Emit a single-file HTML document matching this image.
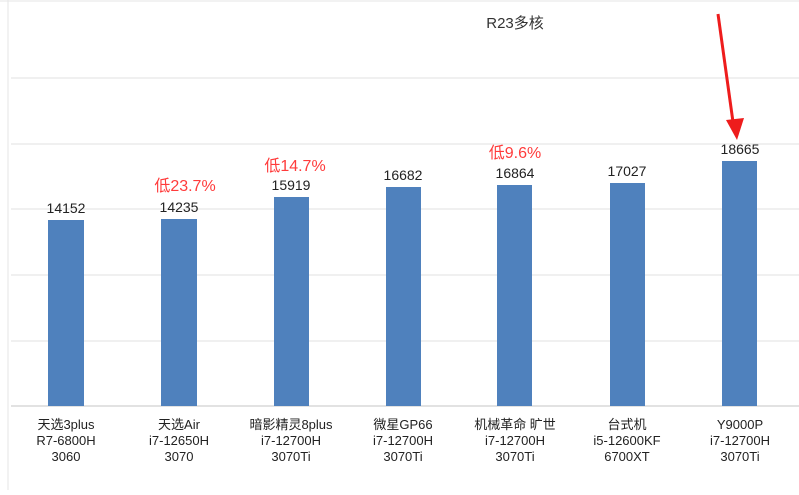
<!DOCTYPE html>
<html><head><meta charset="utf-8"><style>
body{margin:0;background:#fff;}
svg text{font-family:"Liberation Sans","Noto Sans CJK SC",sans-serif;}
</style></head><body>
<svg width="799" height="490" xmlns="http://www.w3.org/2000/svg">
<rect width="799" height="490" fill="#fff"/>
<line x1="8" y1="0" x2="8" y2="490" stroke="#e6e6e6"/>
<line x1="0" y1="1" x2="799" y2="1" stroke="#e6e6e6"/>
<g stroke="#ececec" stroke-width="1.5">
<line x1="11" y1="78" x2="799" y2="78"/>
<line x1="11" y1="144" x2="799" y2="144"/>
<line x1="11" y1="209" x2="799" y2="209"/>
<line x1="11" y1="275" x2="799" y2="275"/>
<line x1="11" y1="341" x2="799" y2="341"/>
</g>
<line x1="11" y1="406" x2="799" y2="406" stroke="#d9d9d9" stroke-width="1.5"/>
<text x="515" y="28" font-size="15" text-anchor="middle" fill="#333">R23多核</text>
<g fill="#4f81bd">
<rect x="48" y="220" width="36" height="186"/>
<rect x="161" y="219" width="36" height="187"/>
<rect x="274" y="197" width="35" height="209"/>
<rect x="386" y="187" width="35" height="219"/>
<rect x="497" y="185" width="35" height="221"/>
<rect x="610" y="183" width="35" height="223"/>
<rect x="722" y="161" width="35" height="245"/>
</g>
<g font-size="14" text-anchor="middle" fill="#222">
<text x="66" y="213">14152</text>
<text x="179" y="212">14235</text>
<text x="291" y="190">15919</text>
<text x="403" y="180">16682</text>
<text x="515" y="178">16864</text>
<text x="627" y="176">17027</text>
<text x="740" y="154">18665</text>
</g>
<g font-size="16" text-anchor="middle" fill="#ff3b3b">
<text x="185" y="191">低23.7%</text>
<text x="295" y="171">低14.7%</text>
<text x="515" y="158">低9.6%</text>
</g>
<g font-size="13" text-anchor="middle" fill="#222">
<text x="66" y="429">天选3plus</text><text x="66" y="445">R7-6800H</text><text x="66" y="461">3060</text>
<text x="179" y="429">天选Air</text><text x="179" y="445">i7-12650H</text><text x="179" y="461">3070</text>
<text x="291" y="429">暗影精灵8plus</text><text x="291" y="445">i7-12700H</text><text x="291" y="461">3070Ti</text>
<text x="403" y="429">微星GP66</text><text x="403" y="445">i7-12700H</text><text x="403" y="461">3070Ti</text>
<text x="515" y="429">机械革命 旷世</text><text x="515" y="445">i7-12700H</text><text x="515" y="461">3070Ti</text>
<text x="627" y="429">台式机</text><text x="627" y="445">i5-12600KF</text><text x="627" y="461">6700XT</text>
<text x="740" y="429">Y9000P</text><text x="740" y="445">i7-12700H</text><text x="740" y="461">3070Ti</text>
</g>
<line x1="718" y1="14" x2="733" y2="122" stroke="#ee1c1c" stroke-width="3"/>
<polygon points="726,120 744,118 737,140" fill="#ee1c1c"/>
</svg>
</body></html>
